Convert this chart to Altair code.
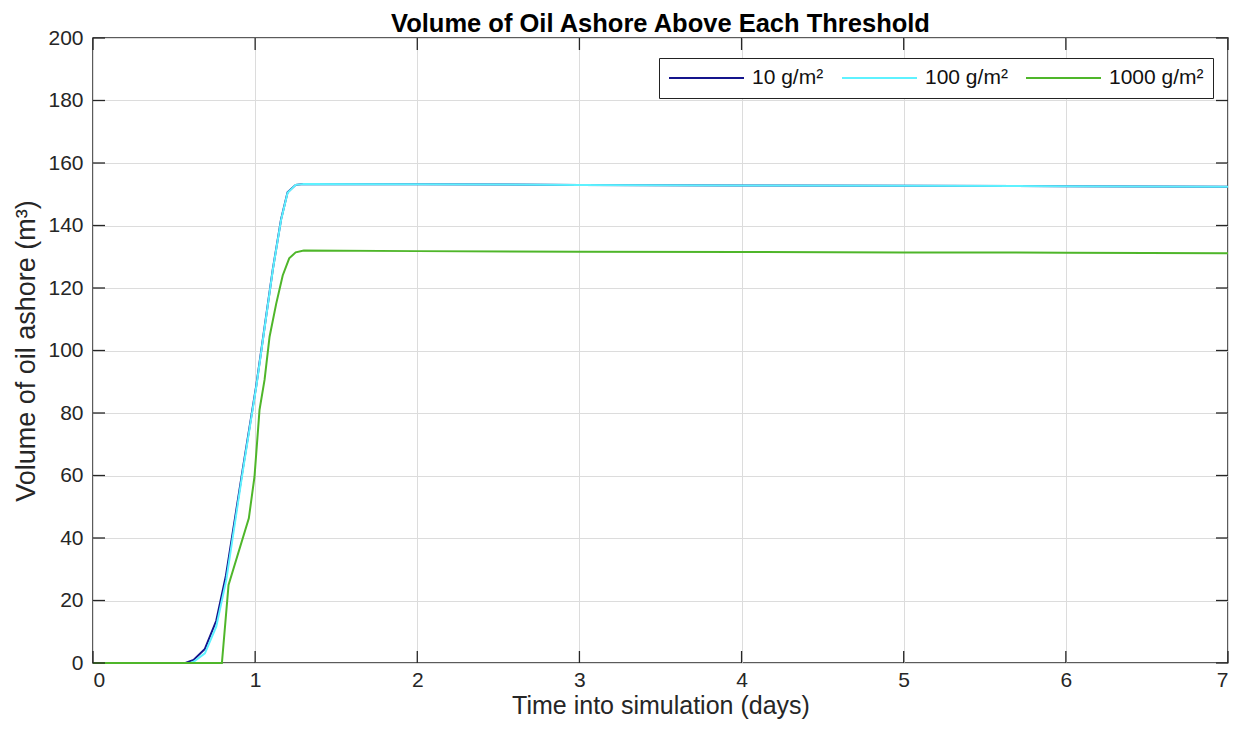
import altair as alt
import pandas as pd

# ---- data ----
series_names = ["10 g/m²", "100 g/m²", "1000 g/m²"]

days_10 = [0, 0.57, 0.62, 0.69, 0.76, 0.82, 0.925, 1.007, 1.109, 1.16, 1.2, 1.25, 1.3, 2, 3, 4, 5, 6, 7]
vals_10 = [0, 0, 1.0, 4.5, 13.5, 28.0, 62.5, 88.8, 126.0, 142.0, 150.6, 153.0, 153.3, 153.2, 153.0, 152.8, 152.7, 152.6, 152.4]

days_100 = [0, 0.6, 0.62, 0.69, 0.76, 0.822, 0.925, 1.007, 1.109, 1.16, 1.2, 1.25, 1.3, 2, 3, 4, 5, 6, 7]
vals_100 = [0, 0, 0.4, 3.1, 11.6, 26.6, 61.8, 88.4, 125.8, 141.8, 150.5, 153.0, 153.3, 153.2, 153.0, 152.8, 152.7, 152.6, 152.4]

days_1000 = [0, 0.795, 0.836, 0.961, 0.996, 1.027, 1.058, 1.089, 1.13, 1.17, 1.21, 1.25, 1.3, 2, 3, 4, 5, 6, 7]
vals_1000 = [0, 0, 25.0, 46.3, 59.6, 81.0, 90.6, 104.4, 115.0, 124.0, 129.5, 131.4, 132.0, 131.8, 131.6, 131.5, 131.4, 131.3, 131.1]

x_ticks = [0, 1, 2, 3, 4, 5, 6, 7]
y_ticks = [0, 20, 40, 60, 80, 100, 120, 140, 160, 180, 200]

colors = ["#14148c", "#5ef2ff", "#4fb62a"]

rows = []
for name, ds, vs in zip(series_names, [days_10, days_100, days_1000], [vals_10, vals_100, vals_1000]):
    for d, v in zip(ds, vs):
        rows.append({"series": name, "day": d, "vol": v})
df = pd.DataFrame(rows)
xt = pd.DataFrame({"t": x_ticks})
yt = pd.DataFrame({"t": y_ticks})

FONT = "Liberation Sans"
W, H = 1135, 625
TICK = 12
AXC = "#262626"

xscale = alt.Scale(domain=[0, 7], nice=False)
yscale = alt.Scale(domain=[0, 200], nice=False)
x_axis = alt.Axis(title="Time into simulation (days)", values=x_ticks,
                  format="d", tickSize=0, labelPadding=6, titlePadding=3,
                  titleFontSize=25)
y_axis = alt.Axis(title="Volume of oil ashore (m³)", values=y_ticks,
                  tickSize=0, labelPadding=10, titlePadding=7,
                  titleFontSize=27)

lines = alt.Chart(df).mark_line(strokeWidth=2).encode(
    x=alt.X("day:Q", scale=xscale, axis=x_axis),
    y=alt.Y("vol:Q", scale=yscale, axis=y_axis),
    color=alt.Color("series:N",
                    scale=alt.Scale(domain=series_names, range=colors),
                    legend=alt.Legend(title=None, orient="none", legendX=566, legendY=20,
                                      direction="horizontal", symbolType="stroke",
                                      symbolSize=5625, symbolStrokeWidth=2, clipHeight=22,
                                      labelFontSize=21, labelFont=FONT, labelColor="#111",
                                      strokeColor="#222", fillColor="white", padding=9,
                                      columnPadding=17, labelOffset=7)),
    order=alt.Order("day:Q"),
)

rule_style = dict(color=AXC, strokeWidth=1.3)
tick_bottom = alt.Chart(xt).mark_rule(**rule_style).encode(
    x=alt.X("t:Q", scale=xscale, axis=x_axis), y=alt.value(H), y2=alt.value(H - TICK))
tick_top = alt.Chart(xt).mark_rule(**rule_style).encode(
    x=alt.X("t:Q", scale=xscale, axis=x_axis), y=alt.value(0), y2=alt.value(TICK))
tick_left = alt.Chart(yt).mark_rule(**rule_style).encode(
    y=alt.Y("t:Q", scale=yscale, axis=y_axis), x=alt.value(0), x2=alt.value(TICK))
tick_right = alt.Chart(yt).mark_rule(**rule_style).encode(
    y=alt.Y("t:Q", scale=yscale, axis=y_axis), x=alt.value(W), x2=alt.value(W - TICK))

chart = alt.layer(lines, tick_bottom, tick_top, tick_left, tick_right).properties(
    width=W, height=H,
    title=alt.TitleParams("Volume of Oil Ashore Above Each Threshold", fontSize=25.5,
                          font=FONT, fontWeight="bold", color="#000", offset=0, dy=10),
    autosize=alt.AutoSizeParams(type="none"),
    padding={"left": 85, "top": 30, "right": 5, "bottom": 58},
).configure_axis(
    labelFont=FONT, titleFont=FONT, labelFontSize=21,
    labelColor=AXC, titleColor=AXC, titleFontWeight="normal",
    grid=True, gridColor="#dcdcdc", gridWidth=1, domain=False,
).configure_view(stroke=AXC, strokeWidth=1.5)

chart.save("out.html", embed_options={"renderer": "svg", "actions": False})
